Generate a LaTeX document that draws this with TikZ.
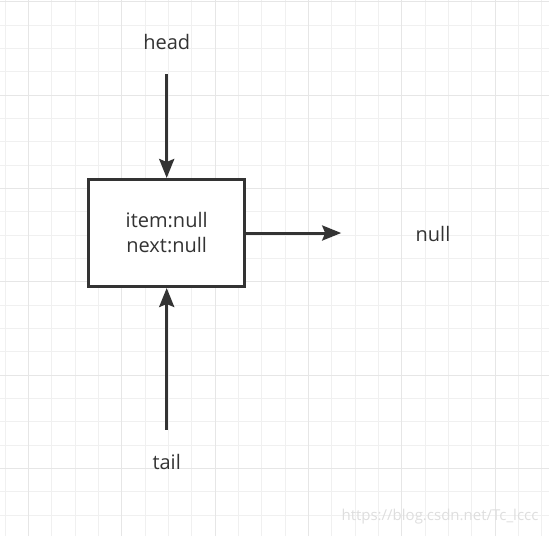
\documentclass[tikz,border=0pt]{standalone}
\usepackage{fontspec}
\setmainfont{Open Sans}
\usepackage{tikz}
\usetikzlibrary{arrows.meta, positioning}
\definecolor{ink}{HTML}{333333}
\definecolor{gridminor}{HTML}{F0F0F0}
\definecolor{gridmajor}{HTML}{E6E6E6}

\begin{document}
\begin{tikzpicture}[x=1pt, y=-1pt, every node/.style={font=\fontsize{20}{25}\selectfont, text=ink}]
  \useasboundingbox (0,0) rectangle (549,536);
  % Grid
  \foreach \i in {0,...,23} {
    \draw[gridminor, line width=0.9pt] (5+\i*23.333,0) -- (5+\i*23.333,536);
    \draw[gridminor, line width=0.9pt] (0,1.667+\i*23.333) -- (549,1.667+\i*23.333);
  }
  \foreach \i in {0,...,5} {
    \draw[gridmajor, line width=0.9pt] (28.333+\i*93.333,0) -- (28.333+\i*93.333,536);
    \draw[gridmajor, line width=0.9pt] (0,1.667+\i*93.333) -- (549,1.667+\i*93.333);
  }
  % Nodes
  \node[draw=ink, line width=3pt, rectangle, fill=white, minimum width=156pt, minimum height=107pt, align=center] (box) at (166.7,233) {item:null\\next:null};
  \node (head) at (166.7,42) {head};
  \node (tail) at (166.7,462) {tail};
  \coordinate[right=95pt of box.east] (nullend);
  \node (nullval) at (433,234) {null};
  \node[text=black!13, font=\fontsize{15}{18}\selectfont] (mark) at (440,517) {https://blog.csdn.net/Tc\_lccc};
  % Edges
  \draw[-{Stealth[length=19pt, width=15pt, inset=3pt]}, draw=ink, fill=ink, line width=3pt, shorten <=21pt] (head) -- (box);
  \draw[-{Stealth[length=19pt, width=15pt, inset=3pt]}, draw=ink, fill=ink, line width=3pt, shorten <=21pt] (tail) -- (box);
  \draw[-{Stealth[length=19pt, width=15pt, inset=3pt]}, draw=ink, fill=ink, line width=3pt] (box) -- (nullend);
\end{tikzpicture}
\end{document}
